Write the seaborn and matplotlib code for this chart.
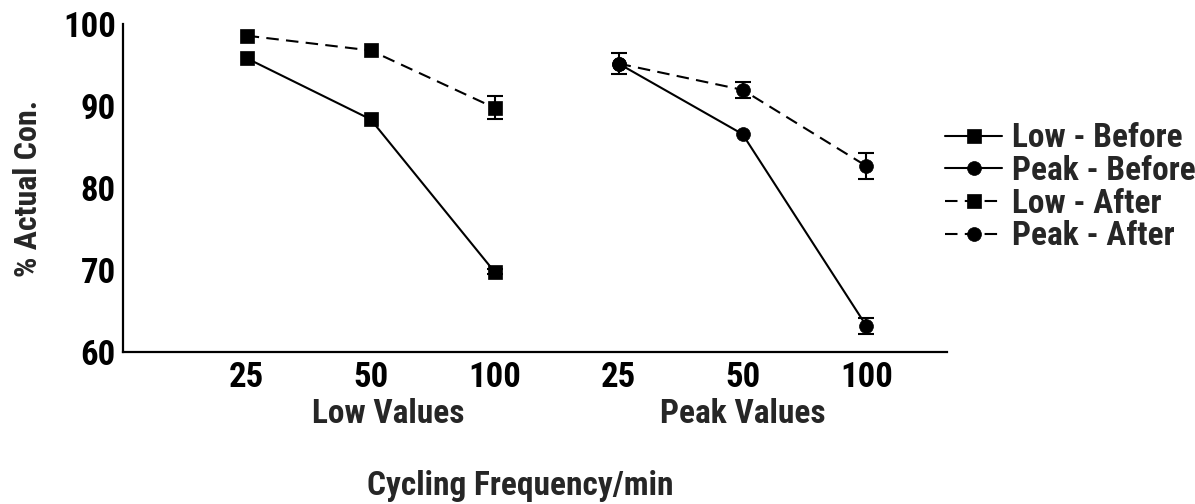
import matplotlib
matplotlib.use("Agg")
import matplotlib.pyplot as plt
from matplotlib import font_manager
import seaborn as sns
import pandas as pd
import numpy as np

# ---- data ----
frequencies = ["25", "50", "100"]
groups = ["Low", "Peak"]
group_labels = ["Low Values", "Peak Values"]
series_names = ["Low - Before", "Peak - Before", "Low - After", "Peak - After"]
low_before = [95.85, 88.4, 69.8]
low_after = [98.6, 96.8, 89.8]
peak_before = [95.2, 86.6, 63.2]
peak_after = [95.2, 92.0, 82.7]
low_before_err = [0.0, 0.0, 0.3]
low_after_err = [0.0, 0.0, 1.4]
peak_before_err = [0.0, 0.0, 1.0]
peak_after_err = [1.3, 1.0, 1.55]
y_ticks = [60, 70, 80, 90, 100]

values = {"Low - Before": low_before, "Low - After": low_after,
          "Peak - Before": peak_before, "Peak - After": peak_after}
errors = {"Low - Before": low_before_err, "Low - After": low_after_err,
          "Peak - Before": peak_before_err, "Peak - After": peak_after_err}

rows = []
for name in series_names:
    grp = name.split(" - ")[0]
    gi = groups.index(grp)
    for fi, f in enumerate(frequencies):
        rows.append({"series": name, "pos": gi * len(frequencies) + fi,
                     "value": values[name][fi], "err": errors[name][fi]})
df = pd.DataFrame(rows)

# ---- style ----
sns.set_style("white")
fam = "DejaVu Sans"
for cand in ["Liberation Sans Narrow", "Roboto Condensed", "DejaVu Sans"]:
    try:
        font_manager.findfont(cand, fallback_to_default=False)
        fam = cand
        break
    except Exception:
        pass
plt.rcParams["font.family"] = [fam, "DejaVu Sans"]
plt.rcParams["font.weight"] = "bold"

fig = plt.figure(figsize=(11.95, 5.04), dpi=100)
ax = fig.add_axes([0.1027, 0.301, 0.6898, 0.651])

markers = {"Low - Before": "s", "Peak - Before": "o", "Low - After": "s", "Peak - After": "o"}
dashes = {"Low - Before": "", "Peak - Before": "", "Low - After": (6, 3.5), "Peak - After": (6, 3.5)}

sns.lineplot(data=df, x="pos", y="value", hue="series", style="series",
             hue_order=series_names, style_order=series_names,
             markers=markers, dashes=dashes, palette=["black"] * 4,
             markersize=10, linewidth=1.5, markeredgecolor="black",
             markeredgewidth=0.5, errorbar=None, sort=False, ax=ax,
             legend=True)

eb = df[df["err"] > 0]
ax.errorbar(eb["pos"], eb["value"], yerr=eb["err"], fmt="none",
            ecolor="black", elinewidth=1.5, capsize=6, capthick=1.5)

ax.set_xlim(-1, 5.65)
ax.set_ylim(60, 100)
ax.set_yticks(y_ticks)
ax.set_yticklabels([str(v) for v in y_ticks])
ax.set_xticks(range(len(groups) * len(frequencies)))
ax.set_xticklabels(frequencies * len(groups))
for s in ["top", "right"]:
    ax.spines[s].set_visible(False)
for s in ["left", "bottom"]:
    ax.spines[s].set_linewidth(1.6)
    ax.spines[s].set_color("black")
ax.tick_params(axis="both", direction="in", length=7, width=1.3,
               labelsize=25, colors="black")
ax.tick_params(axis="x", pad=6)
ax.tick_params(axis="y", pad=5)
ax.set_xlabel("")
ax.set_ylabel("% Actual Con.", fontsize=23, fontweight="bold", labelpad=14)

for gi, gl in enumerate(group_labels):
    xc = gi * len(frequencies) + 1 + (0.14 if gi == 0 else 0.0)
    ax.text(xc, -0.14, gl, transform=ax.get_xaxis_transform(),
            ha="center", va="top", fontsize=24, fontweight="bold")

fig.text(0.435, 0.035, "Cycling Frequency/min", ha="center", va="center",
         fontsize=24, fontweight="bold")

handles, labels = ax.get_legend_handles_labels()
ax.legend_.remove()
leg = fig.legend(handles, labels, loc="upper left", bbox_to_anchor=(0.791, 0.757),
                 frameon=False, fontsize=24, handlelength=1.7, handletextpad=0.3,
                 labelspacing=0.02, borderpad=0, borderaxespad=0)
for t in leg.get_texts():
    t.set_fontweight("bold")

fig.savefig("out.png", dpi=100)
